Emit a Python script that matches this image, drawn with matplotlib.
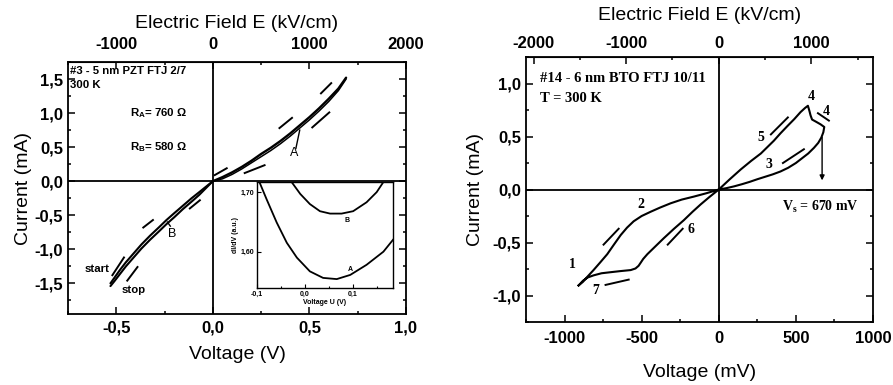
import matplotlib.pyplot as plt
from matplotlib.ticker import MultipleLocator, FuncFormatter

plt.rcParams['font.family'] = ['Liberation Sans', 'DejaVu Sans']
plt.rcParams['axes.unicode_minus'] = False
plt.rcParams['mathtext.default'] = 'regular'

# --- PZT junction (left): voltage in V, current in mA, two nearly overlapping sweeps
pzt_pos_v = [0.0, 0.05, 0.1, 0.15, 0.2, 0.25, 0.3, 0.35, 0.4, 0.45, 0.5, 0.55, 0.6, 0.65, 0.69]
pzt_pos_i1 = [0.0, 0.06, 0.13, 0.21, 0.30, 0.40, 0.49, 0.59, 0.70, 0.82, 0.94, 1.07, 1.21, 1.36, 1.52]
pzt_pos_i2 = [0.0, 0.035, 0.10, 0.18, 0.27, 0.36, 0.45, 0.55, 0.66, 0.78, 0.90, 1.03, 1.17, 1.33, 1.50]
pzt_neg_v = [0.0, -0.035, -0.07, -0.11, -0.155, -0.2, -0.24, -0.28, -0.325, -0.37, -0.41, -0.45, -0.48, -0.51, -0.53]
pzt_neg_i1 = [0.0, -0.08, -0.16, -0.25, -0.36, -0.47, -0.57, -0.68, -0.80, -0.93, -1.06, -1.19, -1.30, -1.42, -1.50]
pzt_neg_i2 = [0.0, -0.10, -0.20, -0.30, -0.41, -0.53, -0.63, -0.74, -0.86, -0.99, -1.12, -1.25, -1.36, -1.47, -1.54]

# sweep-direction marks next to the curve: (V0, I0, V1, I1)
pzt_marks = [(0.010, 0.09, 0.072, 0.19), (0.165, 0.12, 0.268, 0.235),
             (0.345, 0.78, 0.41, 0.93), (0.515, 0.79, 0.603, 1.01),
             (0.56, 1.29, 0.613, 1.44), (-0.119, -0.40, -0.067, -0.28),
             (-0.36, -0.68, -0.31, -0.57), (-0.52, -1.38, -0.46, -1.12),
             (-0.443, -1.46, -0.39, -1.26)]

# inset: differential conductance of states A and B
dd_u_b = [-0.028, -0.010, 0.010, 0.031, 0.052, 0.076, 0.100, 0.128, 0.149, 0.163]
dd_b = [1.717, 1.697, 1.680, 1.668, 1.664, 1.664, 1.668, 1.683, 1.700, 1.717]
dd_u_a = [-0.095, -0.080, -0.059, -0.038, -0.017, 0.010, 0.0375, 0.066, 0.094, 0.128, 0.163, 0.183]
dd_a = [1.717, 1.688, 1.649, 1.615, 1.590, 1.567, 1.556, 1.554, 1.561, 1.578, 1.600, 1.620]

# --- BTO junction (right): closed loop in sweep order 1 -> 7, voltage in mV, current in mA
bto_v = [-909, -880, -850, -812, -770, -723, -680, -636, -595, -552, -500, -442, -380,
         -312, -240, -162, -80, 0,
         50, 100, 150, 200, 250, 300, 350, 400, 450, 500, 540, 580, 617, 645, 665, 678, 684,
         660, 630, 605, 595, 588, 578,
         560, 530, 490, 446, 400, 357, 315, 273, 210, 143, 70, 0,
         -60, -117, -170, -227, -290, -357, -410, -463, -490, -506, -520, -540, -571,
         -640, -701, -760, -812, -850, -880, -909]
bto_i = [-0.905, -0.87, -0.82, -0.76, -0.69, -0.61, -0.52, -0.43, -0.36, -0.30, -0.25, -0.21, -0.17,
         -0.13, -0.095, -0.067, -0.035, 0.0,
         0.013, 0.03, 0.05, 0.072, 0.097, 0.12, 0.143, 0.17, 0.205, 0.25, 0.295, 0.34, 0.393, 0.44, 0.49, 0.54, 0.59,
         0.615, 0.64, 0.66, 0.70, 0.74, 0.79,
         0.77, 0.73, 0.665, 0.60, 0.53, 0.46, 0.40, 0.34, 0.27, 0.19, 0.095, 0.0,
         -0.07, -0.14, -0.21, -0.29, -0.37, -0.46, -0.535, -0.61, -0.655, -0.69, -0.72, -0.745, -0.76,
         -0.77, -0.78, -0.79, -0.81, -0.83, -0.86, -0.905]
bto_marks = [(338, 0.52, 448, 0.68), (416, 0.25, 552, 0.38), (643, 0.72, 714, 0.65),
             (-747, -0.52, -649, -0.37), (-331, -0.52, -234, -0.37), (-734, -0.90, -584, -0.85)]
step_labels = ['1', '2', '3', '4', '4', '5', '6', '7']
step_v = [-948, -506, 325, 597, 700, 273, -182, -799]
step_i = [-0.71, -0.14, 0.24, 0.88, 0.74, 0.49, -0.38, -0.95]
v_switch = 670


def comma(v, pos):
    if abs(v) < 1e-9:
        v = 0.0
    return f"{v:.1f}".replace('.', ',')


def style_axes(ax, pad):
    for s in ax.spines.values():
        s.set_linewidth(1.3)
    ax.tick_params(which='both', direction='in', top=False, right=True,
                   labelsize=12, width=1.1)
    ax.tick_params(which='major', length=5)
    ax.tick_params(which='minor', length=2.5)
    ax.tick_params(axis='x', pad=pad)
    for lab in ax.get_xticklabels() + ax.get_yticklabels():
        lab.set_fontweight('bold')
    ax.axhline(0, color='k', lw=1.3)
    ax.axvline(0, color='k', lw=1.3)


def top_axis(ax, fwd, inv, ticks, pad, labelpad):
    top = ax.secondary_xaxis('top', functions=(fwd, inv))
    top.set_xticks(ticks)
    top.xaxis.set_minor_locator(MultipleLocator(500))
    top.tick_params(which='both', direction='in', labelsize=12, width=1.1, pad=pad)
    top.tick_params(which='major', length=5)
    top.tick_params(which='minor', length=2.5)
    for lab in top.get_xticklabels():
        lab.set_fontweight('bold')
    top.set_xlabel('Electric Field E (kV/cm)', fontsize=14, labelpad=labelpad)
    return top


fig = plt.figure(figsize=(8.93, 3.85), dpi=100)

# ---------------- left panel ----------------
ax1 = fig.add_axes([0.0761, 0.1844, 0.3785, 0.6545])
ax1.set_xlim(-0.75, 1.0)
ax1.set_ylim(-1.95, 1.75)
ax1.xaxis.set_major_locator(MultipleLocator(0.5))
ax1.xaxis.set_minor_locator(MultipleLocator(0.25))
ax1.yaxis.set_major_locator(MultipleLocator(0.5))
ax1.yaxis.set_minor_locator(MultipleLocator(0.25))
ax1.xaxis.set_major_formatter(FuncFormatter(comma))
ax1.yaxis.set_major_formatter(FuncFormatter(comma))
style_axes(ax1, pad=4.5)

# thick upper strand and thinner lower strand of each sweep
ax1.plot(pzt_pos_v, pzt_pos_i1, color='k', lw=1.7, solid_capstyle='round')
ax1.plot(pzt_pos_v, pzt_pos_i2, color='k', lw=1.1, solid_capstyle='round')
ax1.plot(pzt_neg_v, pzt_neg_i1, color='k', lw=1.5, solid_capstyle='round')
ax1.plot(pzt_neg_v, pzt_neg_i2, color='k', lw=1.5, solid_capstyle='round')
for x0, y0, x1, y1 in pzt_marks:
    ax1.plot([x0, x1], [y0, y1], color='k', lw=1.4)

ax1.set_xlabel('Voltage (V)', fontsize=14, labelpad=8)
ax1.set_ylabel('Current (mA)', fontsize=14, labelpad=2)
top_axis(ax1, lambda v: v * 2000, lambda e: e / 2000, [-1000, 0, 1000, 2000], pad=7.5, labelpad=6)

txt = dict(fontsize=8.2, fontweight='bold')
ax1.text(-0.74, 1.69, '#3 - 5 nm PZT FTJ 2/7', va='top', **txt)
ax1.text(-0.74, 1.49, '300 K', va='top', **txt)
ax1.text(-0.43, 1.0, 'R$_A$= 760 Ω', va='center', **txt)
ax1.text(-0.43, 0.50, 'R$_B$= 580 Ω', va='center', **txt)
ax1.text(-0.60, -1.29, 'start', ha='center', va='center', **txt)
ax1.text(-0.41, -1.60, 'stop', ha='center', va='center', **txt)
ax1.text(0.42, 0.41, 'A', ha='center', va='center', fontsize=9)
ax1.plot([0.43, 0.45], [0.48, 0.75], color='k', lw=1.0)
ax1.text(-0.21, -0.78, 'B', ha='center', va='center', fontsize=9)
ax1.plot([-0.235, -0.22], [-0.60, -0.66], color='k', lw=1.0)

# inset
axin = fig.add_axes([0.2878, 0.2519, 0.1523, 0.2753])
axin.plot(dd_u_b, dd_b, color='k', lw=1.3)
axin.plot(dd_u_a, dd_a, color='k', lw=1.3)
axin.set_xlim(-0.1, 0.183)
axin.set_ylim(1.539, 1.717)
axin.set_xticks([-0.1, 0.0, 0.1])
axin.set_xticklabels(['-0,1', '0,0', '0,1'])
axin.xaxis.set_minor_locator(MultipleLocator(0.05))
axin.set_yticks([1.60, 1.70])
axin.set_yticklabels(['1,60', '1,70'])
axin.tick_params(which='both', direction='in', labelsize=5, width=0.8, pad=2)
axin.tick_params(which='major', length=3)
axin.tick_params(which='minor', length=1.5)
for lab in axin.get_xticklabels() + axin.get_yticklabels():
    lab.set_fontweight('bold')
for s in axin.spines.values():
    s.set_linewidth(1.0)
axin.set_xlabel('Voltage U (V)', fontsize=5, fontweight='bold', labelpad=1)
axin.set_ylabel('dI/dV (a.u.)', fontsize=5, fontweight='bold', labelpad=1)
axin.text(0.087, 1.652, 'B', fontsize=5, fontweight='bold', ha='center', va='center')
axin.text(0.094, 1.570, 'A', fontsize=5, fontweight='bold', ha='center', va='center')

# ---------------- right panel ----------------
ax2 = fig.add_axes([0.589, 0.1636, 0.3886, 0.6883])
ax2.set_xlim(-1250, 1000)
ax2.set_ylim(-1.25, 1.25)
ax2.xaxis.set_major_locator(MultipleLocator(500))
ax2.xaxis.set_minor_locator(MultipleLocator(250))
ax2.yaxis.set_major_locator(MultipleLocator(0.5))
ax2.yaxis.set_minor_locator(MultipleLocator(0.25))
ax2.yaxis.set_major_formatter(FuncFormatter(comma))
style_axes(ax2, pad=6.5)

ax2.plot(bto_v, bto_i, color='k', lw=1.5, solid_joinstyle='round')
for x0, y0, x1, y1 in bto_marks:
    ax2.plot([x0, x1], [y0, y1], color='k', lw=1.4)
ax2.annotate('', xy=(v_switch, 0.06), xytext=(v_switch, 0.52),
             arrowprops=dict(arrowstyle='-|>', color='k', lw=1.0, mutation_scale=7))

serif = dict(family=['Liberation Serif', 'DejaVu Serif'], fontweight='bold')
for lab, v, i in zip(step_labels, step_v, step_i):
    ax2.text(v, i, lab, ha='center', va='center', fontsize=10, **serif)
ax2.text(-1156, 1.05, '#14 - 6 nm BTO FTJ 10/11', va='center', fontsize=10.5, **serif)
ax2.text(-1156, 0.86, 'T = 300 K', va='center', fontsize=10.5, **serif)
ax2.text(662, -0.16, f'V$_s$ = {v_switch} mV', ha='center', va='center', fontsize=10, **serif)

ax2.set_xlabel('Voltage (mV)', fontsize=14, labelpad=13)
ax2.set_ylabel('Current (mA)', fontsize=14, labelpad=6)
top_axis(ax2, lambda v: v / 0.6, lambda e: e * 0.6, [-2000, -1000, 0, 1000], pad=4.5, labelpad=11)

fig.savefig('out.png', dpi=100)
